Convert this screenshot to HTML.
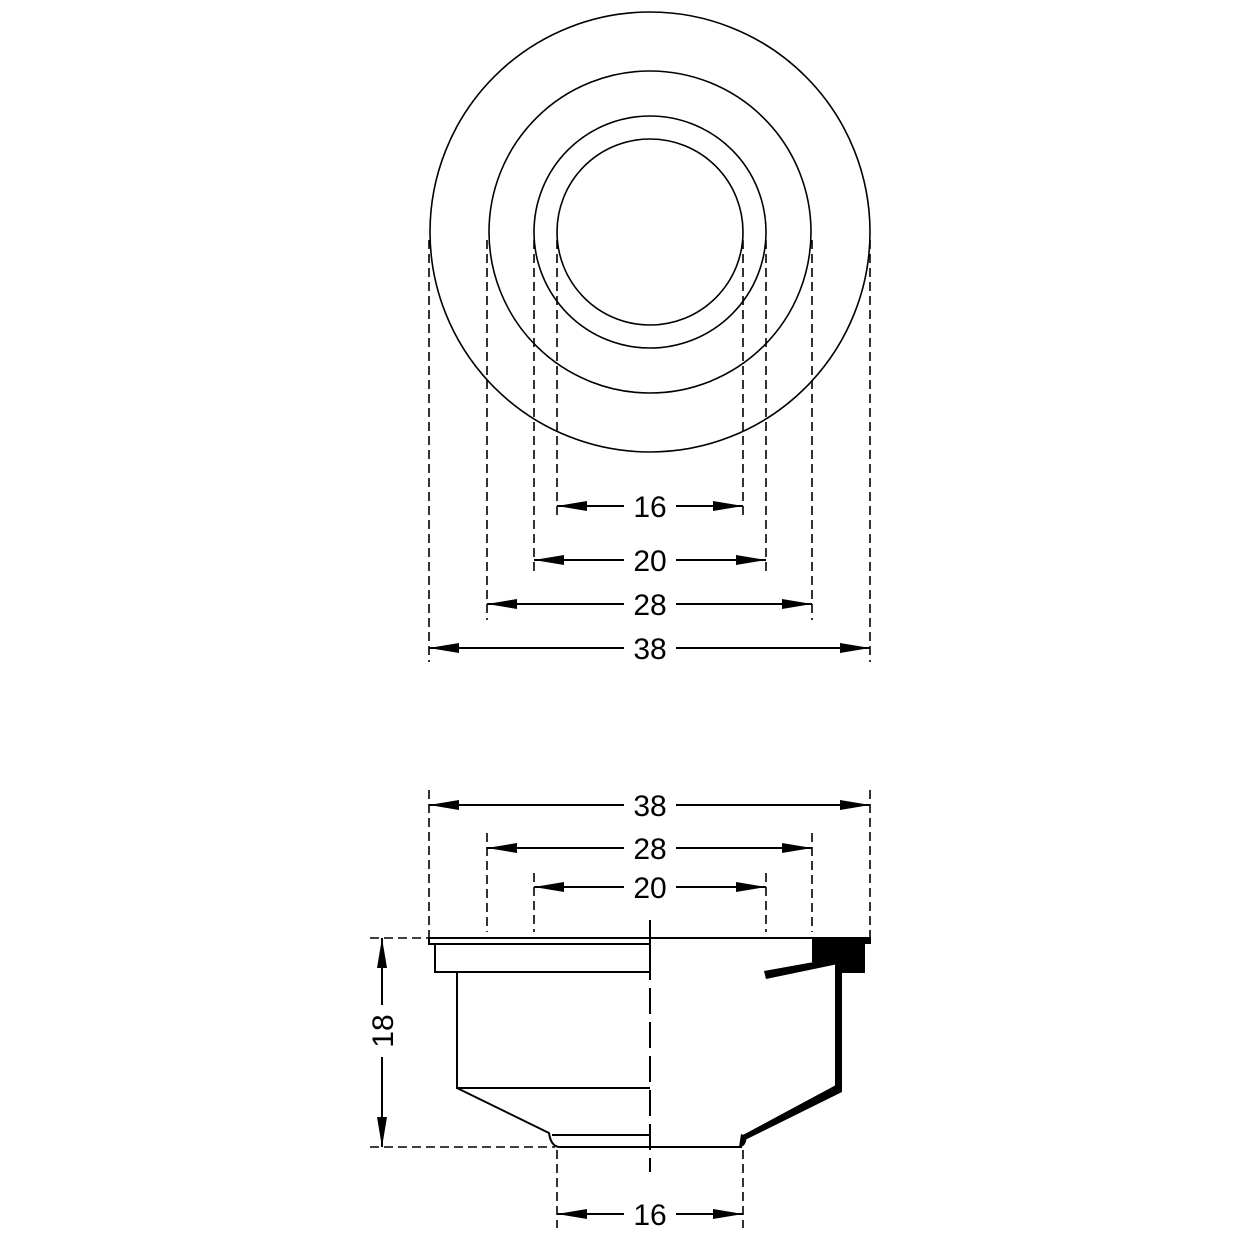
<!DOCTYPE html>
<html><head><style>html,body{margin:0;padding:0;background:#fff}</style></head>
<body>
<svg width="1240" height="1240" viewBox="0 0 1240 1240" xmlns="http://www.w3.org/2000/svg" font-family="Liberation Sans, sans-serif">
<defs>
<marker id="a" viewBox="0 0 30 10" refX="30" refY="5" markerWidth="30" markerHeight="10" markerUnits="userSpaceOnUse" orient="auto-start-reverse"><path d="M0,0 L30,5 L0,10 Z" fill="#000"/></marker>
</defs>
<g fill="none" stroke="#000" stroke-width="1.6">
<circle cx="650" cy="232" r="220"/>
<circle cx="650" cy="232" r="161"/>
<circle cx="650" cy="232" r="116"/>
<circle cx="650" cy="232" r="93"/>
</g>
<g stroke="#000" stroke-width="1.6" stroke-dasharray="9,5" fill="none">
<line x1="557" y1="240" x2="557" y2="520"/><line x1="743" y1="240" x2="743" y2="520"/>
<line x1="534" y1="240" x2="534" y2="575"/><line x1="766" y1="240" x2="766" y2="575"/>
<line x1="487" y1="240" x2="487" y2="620"/><line x1="812" y1="240" x2="812" y2="620"/>
<line x1="429" y1="240" x2="429" y2="662"/><line x1="870" y1="240" x2="870" y2="662"/>
<line x1="429" y1="790" x2="429" y2="938"/><line x1="870" y1="790" x2="870" y2="938"/>
<line x1="487" y1="833" x2="487" y2="932"/><line x1="812" y1="833" x2="812" y2="932"/>
<line x1="534" y1="873" x2="534" y2="932"/><line x1="766" y1="873" x2="766" y2="932"/>
<line x1="557" y1="1150" x2="557" y2="1228"/><line x1="743" y1="1150" x2="743" y2="1228"/>
<line x1="370" y1="938" x2="428" y2="938"/><line x1="370" y1="1147" x2="555" y2="1147"/>
<line x1="650" y1="920" x2="650" y2="1172" stroke-dasharray="26,8" stroke-width="2"/>
</g>
<g stroke="#000" stroke-width="2" marker-start="url(#a)" marker-end="url(#a)">
<line x1="557" y1="506" x2="743" y2="506"/>
<line x1="534" y1="560" x2="766" y2="560"/>
<line x1="487" y1="604" x2="812" y2="604"/>
<line x1="429" y1="648" x2="870" y2="648"/>
<line x1="429" y1="805" x2="870" y2="805"/>
<line x1="487" y1="848" x2="812" y2="848"/>
<line x1="534" y1="887" x2="766" y2="887"/>
<line x1="557" y1="1214" x2="743" y2="1214"/>
<line x1="382" y1="938" x2="382" y2="1147"/>
</g>
<g fill="#fff">
<rect x="624" y="490" width="52" height="32"/><rect x="624" y="544" width="52" height="32"/>
<rect x="624" y="588" width="52" height="32"/><rect x="624" y="632" width="52" height="32"/>
<rect x="624" y="789" width="52" height="32"/><rect x="624" y="832" width="52" height="32"/>
<rect x="624" y="871" width="52" height="32"/><rect x="624" y="1198" width="52" height="32"/>
<rect x="366" y="1005" width="32" height="52"/>
</g>
<g font-size="30" text-anchor="middle" fill="#000">
<text x="650" y="517">16</text><text x="650" y="571">20</text>
<text x="650" y="615">28</text><text x="650" y="659">38</text>
<text x="650" y="816">38</text><text x="650" y="859">28</text>
<text x="650" y="898">20</text><text x="650" y="1225">16</text>
<text transform="translate(393,1031) rotate(-90)">18</text>
</g>
<g fill="none" stroke="#000" stroke-width="2">
<line x1="428" y1="938" x2="812" y2="938"/>
<polyline points="650,944 429,944 429,938"/>
<rect x="435" y="944" width="215" height="28"/>
<polyline points="457,972 457,1088 650,1088"/>
<path d="M457,1088 L549,1133 Q551,1147 560,1147 L742,1147"/>
<line x1="552" y1="1135" x2="650" y2="1135"/>
</g>
<g fill="#000">
<polygon points="812,937 871,937 871,944 865,944 865,973 841,973 841,962 812,962"/>
<polygon points="764,971 836,958 838,964 766,979"/>
<rect x="835" y="960" width="7" height="128"/>
<polygon points="836,1085 842,1088 842,1092 745,1140 741,1136"/>
<path d="M741,1134 L747,1136 Q746,1146 741,1147 L739,1147 Z"/>
</g>
</svg>
</body></html>
